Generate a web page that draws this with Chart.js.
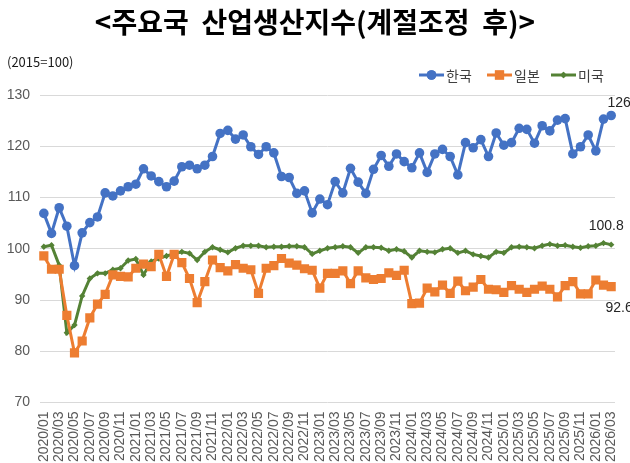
<!DOCTYPE html>
<html>
<head>
<meta charset="utf-8">
<script src="https://cdn.jsdelivr.net/npm/chart.js@4/dist/chart.umd.min.js"></script>
<style>
html,body{margin:0;padding:0;background:#fff;}
canvas{display:block;}
</style>
</head>
<body>
<canvas id="c" width="630" height="463"></canvas>
<script>
const titleText = "<주요국  산업생산지수(계절조정  후)>";
const unitText = "(2015=100)";
const seriesNames = ["한국", "일본", "미국"];

const categories = [
"2020/01","2020/02","2020/03","2020/04","2020/05","2020/06","2020/07","2020/08","2020/09","2020/10","2020/11","2020/12",
"2021/01","2021/02","2021/03","2021/04","2021/05","2021/06","2021/07","2021/08","2021/09","2021/10","2021/11","2021/12",
"2022/01","2022/02","2022/03","2022/04","2022/05","2022/06","2022/07","2022/08","2022/09","2022/10","2022/11","2022/12",
"2023/01","2023/02","2023/03","2023/04","2023/05","2023/06","2023/07","2023/08","2023/09","2023/10","2023/11","2023/12",
"2024/01","2024/02","2024/03","2024/04","2024/05","2024/06","2024/07","2024/08","2024/09","2024/10","2024/11","2024/12",
"2025/01","2025/02","2025/03","2025/04","2025/05","2025/06","2025/07","2025/08","2025/09","2025/10","2025/11","2025/12",
"2026/01","2026/02","2026/03"];

const korea = [
106.9,103.0,108.0,104.4,96.7,103.1,105.1,106.2,110.9,110.3,111.3,112.1,
112.6,115.6,114.2,113.1,112.1,113.2,116.0,116.3,115.6,116.3,118.0,122.5,
123.1,121.4,122.2,119.9,118.4,119.9,118.7,114.1,113.9,110.8,111.3,107.0,
109.7,108.6,113.1,110.9,115.7,113.0,110.8,115.5,118.2,116.1,118.5,117.0,
115.8,118.7,114.9,118.5,119.4,118.0,114.4,120.7,119.7,121.3,118.0,122.6,
120.2,120.7,123.5,123.3,120.6,124.0,123.0,125.1,125.4,118.5,119.9,122.2,
119.1,125.3,126.0];

const japan = [
98.6,96.0,96.0,87.0,79.7,82.0,86.5,89.2,91.1,94.9,94.6,94.5,
96.2,97.0,96.5,98.9,94.6,98.9,97.3,94.2,89.5,93.6,97.8,96.3,
95.7,96.9,96.2,95.9,91.3,96.2,96.7,98.1,97.2,96.8,96.1,95.8,
92.3,95.2,95.2,95.7,93.2,95.7,94.3,94.0,94.2,95.3,94.8,95.8,
89.3,89.4,92.3,91.6,92.9,91.3,93.7,91.8,92.5,94.0,92.1,92.0,
91.5,92.8,92.1,91.5,92.1,92.7,92.1,90.6,92.8,93.6,91.2,91.2,
93.9,92.9,92.6];

const usa = [
100.4,100.7,96.8,83.6,85.1,90.8,94.2,95.2,95.2,95.9,96.2,97.7,
98.0,94.9,97.5,98.1,98.6,99.0,99.4,99.1,97.8,99.4,100.3,99.8,
99.3,100.1,100.6,100.6,100.6,100.3,100.4,100.4,100.5,100.5,100.3,99.0,
99.6,100.1,100.3,100.5,100.3,99.2,100.3,100.3,100.2,99.6,99.9,99.5,
98.3,99.6,99.4,99.3,99.9,100.1,99.2,99.6,98.9,98.6,98.3,99.4,
99.2,100.3,100.4,100.3,100.1,100.6,100.9,100.6,100.7,100.4,100.2,100.5,
100.6,101.1,100.8];

const lastLabels = ["126", "92.6", "100.8"];
const yTicks = [70, 80, 90, 100, 110, 120, 130];

const colors = ["#4472C4", "#ED7D31", "#548235"];
const markers = ["circle", "rect", "rectRot"];
const radii = [4.8, 6.5, 3.2];

const chartLeft = 40, chartRight = 15, chartTop = 95, chartBottomAxis = 60.5;

const overlay = {
  id: "overlay",
  afterDraw(chart) {
    const ctx = chart.ctx;
    ctx.save();
    // title
    ctx.fillStyle = "#000";
    ctx.font = "bold 28px 'Noto Sans CJK KR'";
    ctx.textAlign = "center";
    ctx.textBaseline = "middle";
    ctx.fillText(titleText, 315, 22);
    // unit
    ctx.font = "13px 'Noto Sans CJK KR'";
    ctx.textAlign = "left";
    ctx.fillStyle = "#1a1a1a";
    ctx.fillText(unitText, 7, 62);
    // legend
    const lx = [419, 487, 551];
    ctx.font = "14px 'Noto Sans CJK KR'";
    ctx.textBaseline = "middle";
    seriesNames.forEach((n, i) => {
      const x = lx[i], y = 75;
      ctx.strokeStyle = colors[i];
      ctx.lineWidth = 3;
      ctx.beginPath(); ctx.moveTo(x, y); ctx.lineTo(x + 25, y); ctx.stroke();
      ctx.fillStyle = colors[i];
      Chart.helpers.drawPoint(ctx, {pointStyle: markers[i], radius: radii[i], rotation: 0, borderWidth: 0}, x + 12.5, y);
      ctx.fill();
      ctx.fillStyle = "#404040";
      ctx.fillText(n, x + 27, y + 0.5);
    });
    // last value labels
    ctx.font = "14px 'Liberation Sans'";
    ctx.fillStyle = "#262626";
    ctx.textAlign = "center";
    const offs = [[8, -12], [8, 21], [-5, -19]];
    [0, 1, 2].forEach(i => {
      const meta = chart.getDatasetMeta(i);
      const p = meta.data[meta.data.length - 1];
      ctx.fillText(lastLabels[i], p.x + offs[i][0], p.y + offs[i][1]);
    });
    ctx.restore();
  }
};

const mk = (i, data) => ({
  label: seriesNames[i],
  data: data,
  borderColor: colors[i],
  backgroundColor: colors[i],
  borderWidth: 3,
  pointStyle: markers[i],
  pointRadius: radii[i],
  pointBorderWidth: 0,
  pointBackgroundColor: colors[i],
  tension: 0
});

new Chart(document.getElementById("c"), {
  type: "line",
  data: {
    labels: categories,
    datasets: [mk(0, korea), mk(1, japan), mk(2, usa)]
  },
  options: {
    responsive: false,
    animation: false,
    devicePixelRatio: 1,
    layout: { padding: { left: 0, right: chartRight, top: chartTop, bottom: 0 } },
    plugins: { legend: { display: false }, title: { display: false }, tooltip: { enabled: false } },
    scales: {
      x: {
        offset: true,
        grid: { display: false, drawTicks: false },
        border: { display: false },
        ticks: {
          autoSkip: false,
          minRotation: 90,
          maxRotation: 90,
          padding: 9,
          color: "#595959",
          font: { family: "'Liberation Sans'", size: 14 },
          callback: function (v, idx) { return idx % 2 === 0 ? categories[idx] : ""; }
        },
        afterFit: (s) => { s.height = chartBottomAxis; s.paddingLeft = 0; s.paddingRight = 0; }
      },
      y: {
        min: 70,
        max: 130,
        afterBuildTicks: (s) => { s.ticks = yTicks.map(v => ({ value: v })); },
        grid: { color: "#d9d9d9", lineWidth: 1, drawTicks: false },
        border: { display: false },
        ticks: {
          padding: 10,
          color: "#595959",
          font: { family: "'Liberation Sans'", size: 14 }
        },
        afterFit: (s) => { s.width = chartLeft; }
      }
    }
  },
  plugins: [overlay]
});
</script>
</body>
</html>
